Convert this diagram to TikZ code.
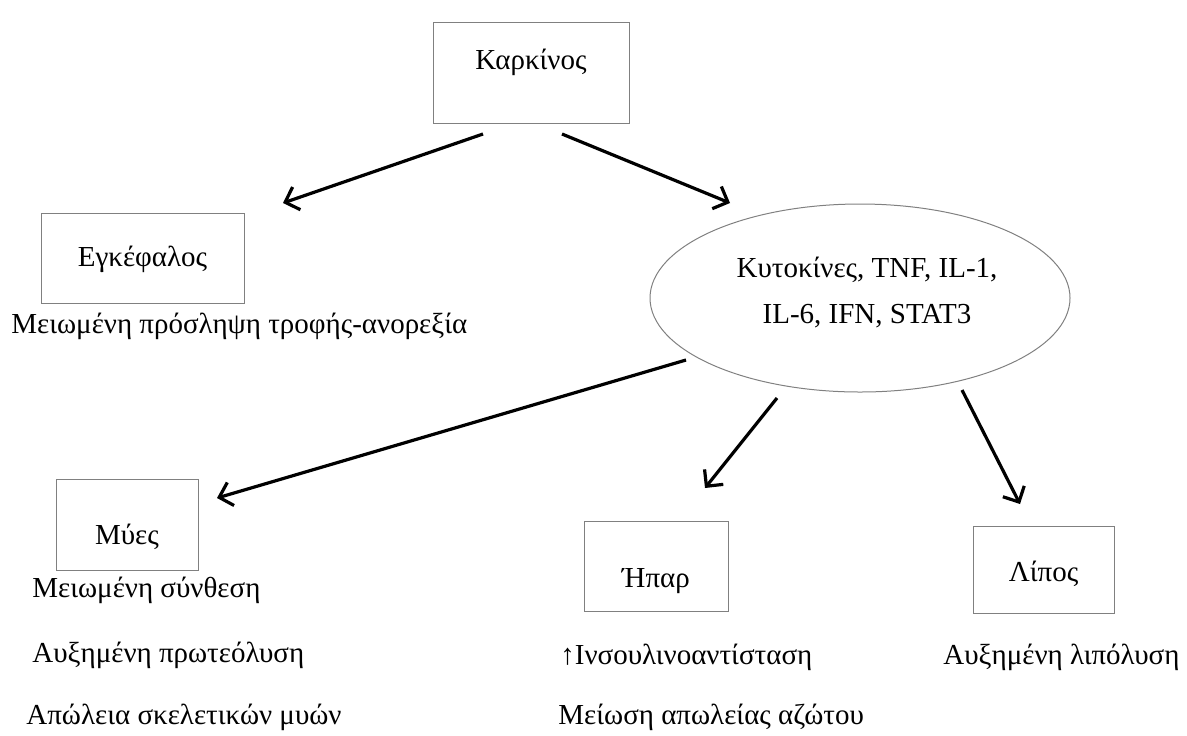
\documentclass[tikz,border=0pt]{standalone}
\usepackage{fontspec}
\setmainfont{Liberation Serif}
\usetikzlibrary{arrows.meta,shapes.geometric}

\begin{document}
\begin{tikzpicture}[x=0.5pt,y=-0.5pt,
  box/.style={draw=gray,line width=0.5pt,rectangle,inner sep=0pt},
  oval/.style={draw=gray,line width=0.5pt,ellipse,inner sep=0pt},
  lbl/.style={anchor=west,inner sep=0pt},
  arr/.style={line width=1.6pt,-{Straight Barb[length=6pt,width=12pt]}},
  font=\fontsize{14.5pt}{19pt}\selectfont]
\useasboundingbox (0,0) rectangle (1187,735);

% boxes
\node[box,minimum width=98pt,text height=23.5pt,text depth=27pt] (karkinos) at (531,72.5) {Καρκίνος};
\node[box,minimum width=101.5pt,text height=26.5pt,text depth=18.5pt] (egkefalos) at (142.5,258) {Εγκέφαλος};
\node[oval,minimum width=210pt,minimum height=94pt] (kytokines) at (860,298) {};
\node[align=center,font=\fontsize{14.5pt}{23pt}\selectfont] (kytotext) at (867,292) {Κυτοκίνες, TNF, IL-1,\\IL-6, IFN, STAT3};
\node[box,minimum width=71pt,text height=32.5pt,text depth=13pt] (myes) at (127,524.5) {Μύες};
\node[box,minimum width=72pt,text height=33pt,text depth=12pt] (ipar) at (656,566) {Ήπαρ};
\node[box,minimum width=70.5pt,text height=27.5pt,text depth=16pt] (lipos) at (1043.5,569.5) {Λίπος};

% texts under the boxes
\node[lbl] (anorexia) at (11,326) {Μειωμένη πρόσληψη τροφής-ανορεξία};
\node[lbl] (synthesi) at (32,590) {Μειωμένη σύνθεση};
\node[lbl] (proteolysi) at (32,655) {Αυξημένη πρωτεόλυση};
\node[lbl] (apoleia) at (26,717) {Απώλεια σκελετικών μυών};
\node[lbl] (insoulini) at (560,657) {↑Ινσουλινοαντίσταση};
\node[lbl] (azotou) at (558,717) {Μείωση απωλείας αζώτου};
\node[lbl] (lipolysi) at (943,657) {Αυξημένη λιπόλυση};

% arrows
\coordinate (kL) at (483,134);
\coordinate (eT) at (283,203);
\coordinate (kR) at (562,134);
\coordinate (cT) at (730,203);
\coordinate (cL) at (686,360);
\coordinate (mT) at (217,498);
\coordinate (cB) at (777,398);
\coordinate (iT) at (705,488);
\coordinate (cR) at (962,390);
\coordinate (lT) at (1020,504);
\draw[arr] (kL) -- (eT);
\draw[arr] (kR) -- (cT);
\draw[arr] (cL) -- (mT);
\draw[arr] (cB) -- (iT);
\draw[arr] (cR) -- (lT);
\end{tikzpicture}
\end{document}
